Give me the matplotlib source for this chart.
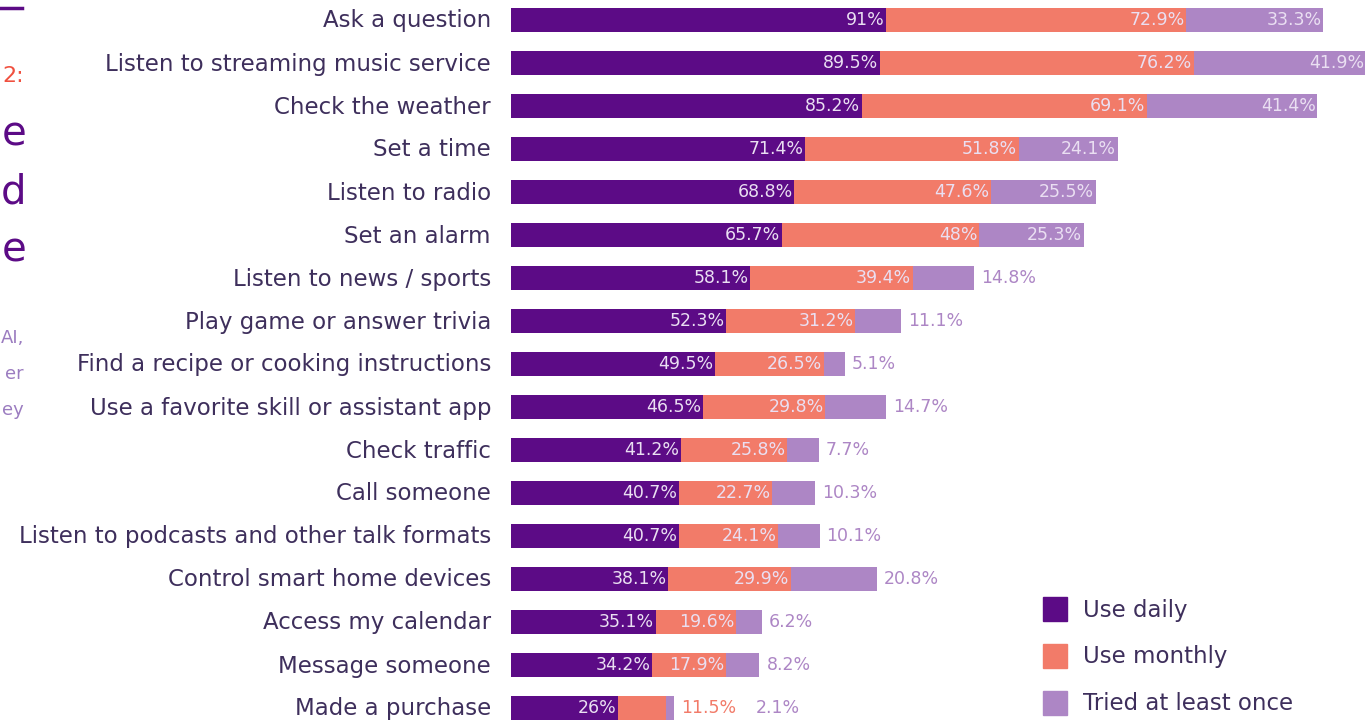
import matplotlib
matplotlib.use("Agg")
import numpy as np
import matplotlib.pyplot as plt

tasks = ["Ask a question", "Listen to streaming music service", "Check the weather",
         "Set a time", "Listen to radio", "Set an alarm", "Listen to news / sports",
         "Play game or answer trivia", "Find a recipe or cooking instructions",
         "Use a favorite skill or assistant app", "Check traffic", "Call someone",
         "Listen to podcasts and other talk formats", "Control smart home devices",
         "Access my calendar", "Message someone", "Made a purchase"]
daily = [91, 89.5, 85.2, 71.4, 68.8, 65.7, 58.1, 52.3, 49.5, 46.5, 41.2, 40.7, 40.7, 38.1, 35.1, 34.2, 26]
monthly = [72.9, 76.2, 69.1, 51.8, 47.6, 48, 39.4, 31.2, 26.5, 29.8, 25.8, 22.7, 24.1, 29.9, 19.6, 17.9, 11.5]
tried = [33.3, 41.9, 41.4, 24.1, 25.5, 25.3, 14.8, 11.1, 5.1, 14.7, 7.7, 10.3, 10.1, 20.8, 6.2, 8.2, 2.1]
series_names = ["Use daily", "Use monthly", "Tried at least once"]

c_daily = "#5c0b86"
c_month = "#f27b69"
c_tried = "#ad86c5"
txt = "#3e2f5c"

W, H = 1365, 721
fig = plt.figure(figsize=(W / 100, H / 100), dpi=100)
ax = fig.add_axes([511 / W, 0, (W - 511) / W, 1])
px = 4.12  # pixels per percent
ax.set_xlim(0, (W - 511) / px)
ax.set_ylim((H - 20) / 43, -20 / 43)
ax.axis("off")

y = np.arange(len(tasks))
d = np.array(daily)
m = np.array(monthly)
t = np.array(tried)
ax.barh(y, d, height=0.58, color=c_daily)
ax.barh(y, m, left=d, height=0.58, color=c_month)
ax.barh(y, t, left=d + m, height=0.58, color=c_tried)

vfont = dict(family="DejaVu Sans", fontsize=12.5, va="center")
lab_in = "#eadff2"


def fmt(v):
    return ("%g" % v) + "%"


for i in range(len(tasks)):
    ax.text(d[i] - 0.4, i, fmt(d[i]), ha="right", color=lab_in, **vfont)
    end = d[i] + m[i] + t[i]
    out_x = end + 1.7
    if m[i] >= 15:
        ax.text(d[i] + m[i] - 0.4, i, fmt(m[i]), ha="right", color=lab_in, **vfont)
    else:
        ax.text(out_x, i, fmt(m[i]), ha="left", color=c_month, **vfont)
        out_x += 18
    if t[i] >= 22:
        ax.text(end - 0.4, i, fmt(t[i]), ha="right", color=lab_in, **vfont)
    else:
        ax.text(out_x, i, fmt(t[i]), ha="left", color=c_tried, **vfont)

for i, name in enumerate(tasks):
    fig.text(491 / W, 1 - (21 + 43 * i) / H, name, ha="right", va="center",
             fontsize=16.5, color=txt, family="DejaVu Sans")

# legend
for k, (name, col) in enumerate(zip(series_names, [c_daily, c_month, c_tried])):
    yc = 609 + 47 * k
    fig.patches.append(plt.Rectangle((1043 / W, 1 - (yc + 12) / H), 24 / W, 24 / H,
                                     transform=fig.transFigure, color=col))
    fig.text(1083 / W, 1 - (yc + 1) / H, name, ha="left", va="center",
             fontsize=16.5, color=txt, family="DejaVu Sans")

# cropped title fragments at the left edge
fig.add_artist(plt.Line2D([0, 22 / W], [1 - 8 / H, 1 - 8 / H], color=c_daily, lw=2.5))
fig.text(24 / W, 1 - 76 / H, "2:", ha="right", va="center", fontsize=16,
         color="#f0503f", family="DejaVu Sans")
for yy, ch in [(135, "e"), (192, "d"), (250, "e")]:
    fig.text(26 / W, 1 - yy / H, ch, ha="right", va="center", fontsize=29,
             color=c_daily, family="DejaVu Sans")
for yy, s in [(338, "AI,"), (374, "er"), (410, "ey")]:
    fig.text(24 / W, 1 - yy / H, s, ha="right", va="center", fontsize=13,
             color="#9b7cc0", family="DejaVu Sans")

fig.savefig("out.png", dpi=100)
